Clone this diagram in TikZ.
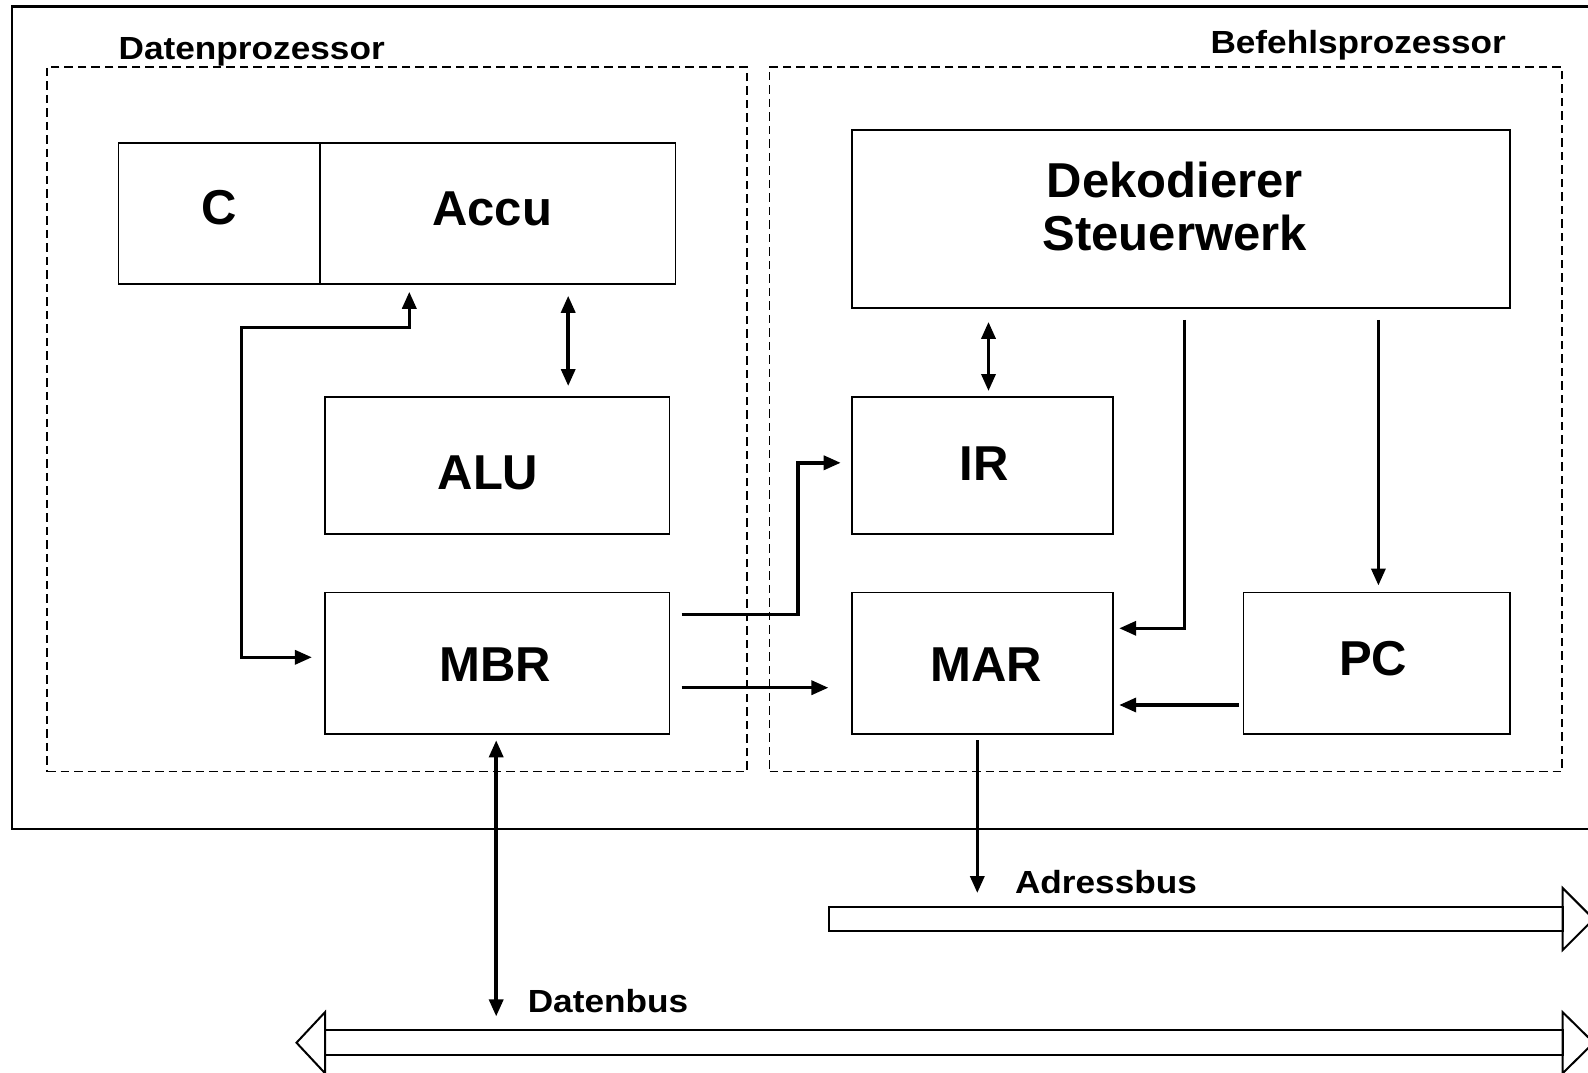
\documentclass[tikz,border=0pt]{standalone}
\usepackage{fontspec}
\setmainfont{Liberation Sans}
\usetikzlibrary{arrows.meta}
\begin{document}
\begin{tikzpicture}[x=1pt,y=-1pt,
  >={Triangle[length=17pt,width=14pt]},
  box/.style={draw, line width=1.8pt, inner sep=0pt, outer sep=0pt},
  dbox/.style={draw, line width=1.8pt, dash pattern=on 8.5pt off 5pt, inner sep=0pt, outer sep=0pt},
  conn/.style={line width=3.5pt, line join=miter},
  bigtxt/.style={font=\bfseries\fontsize{49}{52.7}\selectfont, inner sep=0pt, align=center},
  smalltxt/.style={font=\bfseries\fontsize{32}{32}\selectfont, inner sep=0pt}]
\useasboundingbox (0,0) rectangle (1588,1073);

% outer frame
\draw[line width=2.2pt] (1600,6.5) -- (11.7,6.5) -- (11.7,829) -- (1600,829);

% dashed regions
\node[dbox, minimum width=700pt, minimum height=704.8pt] (dp) at (397,419.1) {};
\node[dbox, minimum width=792.5pt, minimum height=704.8pt] (bp) at (1165.75,419.1) {};
\node[smalltxt, anchor=base west] (dplabel) at (118.5,59.5) {\scalebox{1.1}[1]{Datenprozessor}};
\node[smalltxt, anchor=base west] (bplabel) at (1210.3,54) {\scalebox{1.1}[1]{Befehlsprozessor}};

% boxes
\node[box, minimum width=201.5pt, minimum height=140.8pt] (c) at (219.25,213.4) {};
\node[box, minimum width=355.5pt, minimum height=140.8pt] (accu) at (497.75,213.4) {};
\node[box, minimum width=344.3pt, minimum height=136.7pt] (alu) at (497.25,465.35) {};
\node[box, minimum width=344.3pt, minimum height=141.8pt] (mbr) at (497.25,663.4) {};
\node[box, minimum width=658.3pt, minimum height=178.3pt] (dek) at (1180.85,218.75) {};
\node[box, minimum width=261.5pt, minimum height=136.7pt] (ir) at (982.45,465.35) {};
\node[box, minimum width=261.5pt, minimum height=141.8pt] (mar) at (982.45,663.4) {};
\node[box, minimum width=266.5pt, minimum height=141.8pt] (pc) at (1376.75,663.4) {};

% texts
\node[bigtxt] (ctxt) at (218.8,207.6) {C};
\node[bigtxt] (accutxt) at (492.2,208.6) {Accu};
\node[bigtxt] (alutxt) at (488,473) {ALU};
\node[bigtxt] (mbrtxt) at (495,664.4) {MBR};
\node[bigtxt] (dektxt) at (1174.8,206.6) {Dekodierer\\Steuerwerk};
\node[bigtxt] (irtxt) at (984.4,463.8) {IR};
\node[bigtxt] (martxt) at (986.4,664.4) {MAR};
\node[bigtxt] (pctxt) at (1373.3,658.3) {PC};

% buses
\node[box, line width=2pt, minimum width=733.3pt, minimum height=24pt] (adrbus) at (1196,919) {};
\draw[line width=2pt, line join=miter] (adrbus.east) ++(0,-31) -- ++(31,31) -- ++(-31,31) -- cycle;
\node[box, line width=2pt, minimum width=1237.7pt, minimum height=24.6pt] (datbus) at (943.85,1042.7) {};
\draw[line width=2pt, line join=miter] (datbus.east) ++(0,-30.5) -- ++(31,30.5) -- ++(-31,30.5) -- cycle;
\draw[line width=2pt, line join=miter] (datbus.west) ++(0,-30.5) -- ++(-28.5,30.5) -- ++(28.5,30.5) -- cycle;
\node[smalltxt, anchor=west] (adrlabel) at (1014.8,882) {\scalebox{1.1}[1]{Adressbus}};
\node[smalltxt, anchor=west] (datlabel) at (527.6,1001) {\scalebox{1.1}[1]{Datenbus}};

% connectors
\coordinate (b1) at (241.5,327.3);
\coordinate (b2) at (798,614.7);
\draw[conn,<->,shorten <=12pt,shorten >=11pt] (accu.south -| 568.2,0) -- (alu.north -| 568.2,0);
\draw[conn,<->,shorten <=8pt,shorten >=13.2pt] (accu.south -| 409.3,0) |- (b1) |- (mbr.west |- 0,657.3);
\draw[conn,->,shorten <=12.2pt,shorten >=11pt] (mbr.east |- 0,614.7) -- (b2) |- (ir.west |- 0,462.8);
\draw[conn,->,shorten <=12.2pt,shorten >=23.3pt] (mbr.east |- 0,687.7) -- (mar.west |- 0,687.7);
\draw[conn,<->,shorten <=14pt,shorten >=6pt] (dek.south -| 988.5,0) -- (ir.north -| 988.5,0);
\draw[conn,->,shorten <=12pt,shorten >=6pt] (dek.south -| 1184.3,0) |- (mar.east |- 0,628.3);
\draw[conn,->,shorten <=12pt,shorten >=7pt] (dek.south -| 1378.4,0) -- (pc.north -| 1378.4,0);
\draw[conn,->,shorten <=5pt,shorten >=6pt] (pc.west |- 0,705) -- (mar.east |- 0,705);
\draw[conn,->,shorten <=6pt,shorten >=14pt] (mar.south -| 977.3,0) -- (adrbus.north -| 977.3,0);
\draw[conn,<->,shorten <=6pt,shorten >=14pt] (mbr.south -| 496.2,0) -- (datbus.north -| 496.2,0);
\end{tikzpicture}
\end{document}
